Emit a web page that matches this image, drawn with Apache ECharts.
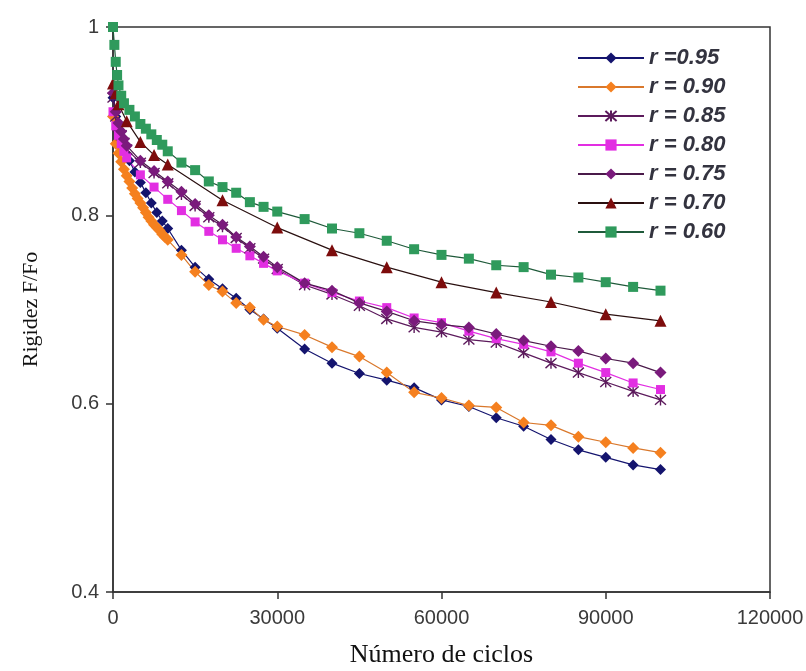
<!DOCTYPE html>
<html>
<head>
<meta charset="utf-8">
<script src="https://cdn.jsdelivr.net/npm/echarts@6/dist/echarts.min.js"></script>
<style>
  html, body { margin: 0; padding: 0; background: #fff; }
  #chart { width: 806px; height: 671px; }
</style>
</head>
<body>
<div id="chart"></div>
<script>
// Stiffness ratio F/Fo versus number of load cycles, one curve per ratio r
const seriesNames = ['r =0.95', 'r = 0.90', 'r = 0.85', 'r = 0.80', 'r = 0.75', 'r = 0.70', 'r = 0.60'];

const xTicks = [0, 30000, 60000, 90000, 120000];
const yTicks = [0.4, 0.6, 0.8, 1];

// r = 0.95
const cycles095 = [0, 500, 1000, 1500, 2000, 2500, 3000, 4000, 5000, 6000, 7000, 8000, 9000, 10000, 12500, 15000, 17500, 20000, 22500, 25000, 27500, 30000, 35000, 40000, 45000, 50000, 55000, 60000, 65000, 70000, 75000, 80000, 85000, 90000, 95000, 100000];
const values095 = [0.925, 0.905, 0.892, 0.882, 0.873, 0.865, 0.858, 0.846, 0.835, 0.824, 0.813, 0.803, 0.794, 0.786, 0.763, 0.745, 0.732, 0.722, 0.712, 0.700, 0.690, 0.680, 0.658, 0.643, 0.632, 0.625, 0.617, 0.604, 0.597, 0.585, 0.576, 0.562, 0.551, 0.543, 0.535, 0.530];

// r = 0.90
const cycles090 = [0, 500, 1000, 1500, 2000, 2500, 3000, 3500, 4000, 4500, 5000, 5500, 6000, 6500, 7000, 7500, 8000, 8500, 9000, 9500, 10000, 12500, 15000, 17500, 20000, 22500, 25000, 27500, 30000, 35000, 40000, 45000, 50000, 55000, 60000, 65000, 70000, 75000, 80000, 85000, 90000, 95000, 100000];
const values090 = [0.905, 0.876, 0.866, 0.857, 0.849, 0.842, 0.836, 0.829, 0.823, 0.818, 0.813, 0.808, 0.803, 0.798, 0.794, 0.790, 0.787, 0.784, 0.780, 0.777, 0.774, 0.758, 0.740, 0.726, 0.719, 0.707, 0.702, 0.689, 0.682, 0.673, 0.660, 0.650, 0.633, 0.612, 0.606, 0.598, 0.596, 0.580, 0.577, 0.565, 0.559, 0.553, 0.548];

// r = 0.85
const cycles085 = [0, 500, 1000, 1500, 2000, 2500, 5000, 7500, 10000, 12500, 15000, 17500, 20000, 22500, 25000, 27500, 30000, 35000, 40000, 45000, 50000, 55000, 60000, 65000, 70000, 75000, 80000, 85000, 90000, 95000, 100000];
const values085 = [0.925, 0.905, 0.894, 0.885, 0.877, 0.870, 0.856, 0.845, 0.834, 0.822, 0.810, 0.798, 0.788, 0.776, 0.765, 0.754, 0.743, 0.726, 0.716, 0.704, 0.690, 0.681, 0.676, 0.668, 0.665, 0.654, 0.643, 0.633, 0.623, 0.613, 0.604];

// r = 0.80
const cycles080 = [0, 500, 1000, 1500, 2000, 2500, 5000, 7500, 10000, 12500, 15000, 17500, 20000, 22500, 25000, 27500, 30000, 35000, 40000, 45000, 50000, 55000, 60000, 65000, 70000, 75000, 80000, 85000, 90000, 95000, 100000];
const values080 = [0.910, 0.895, 0.885, 0.876, 0.868, 0.861, 0.843, 0.830, 0.817, 0.805, 0.793, 0.783, 0.774, 0.765, 0.757, 0.749, 0.741, 0.728, 0.718, 0.709, 0.702, 0.691, 0.686, 0.677, 0.669, 0.663, 0.655, 0.643, 0.633, 0.622, 0.615];

// r = 0.75
const cycles075 = [0, 500, 1000, 1500, 2000, 2500, 5000, 7500, 10000, 12500, 15000, 17500, 20000, 22500, 25000, 27500, 30000, 35000, 40000, 45000, 50000, 55000, 60000, 65000, 70000, 75000, 80000, 85000, 90000, 95000, 100000];
const values075 = [0.930, 0.910, 0.898, 0.889, 0.881, 0.874, 0.858, 0.847, 0.836, 0.825, 0.812, 0.800, 0.790, 0.777, 0.767, 0.756, 0.745, 0.728, 0.720, 0.707, 0.698, 0.688, 0.684, 0.681, 0.674, 0.667, 0.661, 0.656, 0.648, 0.643, 0.633];

// r = 0.70
const cycles070 = [0, 500, 1000, 2500, 5000, 7500, 10000, 20000, 30000, 40000, 50000, 60000, 70000, 80000, 90000, 100000];
const values070 = [0.940, 0.930, 0.918, 0.900, 0.878, 0.864, 0.854, 0.816, 0.787, 0.763, 0.745, 0.729, 0.718, 0.708, 0.695, 0.688];

// r = 0.60
const cycles060 = [0, 250, 500, 750, 1000, 1500, 2000, 3000, 4000, 5000, 6000, 7000, 8000, 9000, 10000, 12500, 15000, 17500, 20000, 22500, 25000, 27500, 30000, 35000, 40000, 45000, 50000, 55000, 60000, 65000, 70000, 75000, 80000, 85000, 90000, 95000, 100000];
const values060 = [1.000, 0.981, 0.963, 0.949, 0.938, 0.927, 0.919, 0.912, 0.905, 0.897, 0.892, 0.886, 0.880, 0.875, 0.868, 0.856, 0.848, 0.836, 0.830, 0.824, 0.814, 0.809, 0.804, 0.796, 0.786, 0.781, 0.773, 0.764, 0.758, 0.754, 0.747, 0.745, 0.737, 0.734, 0.729, 0.724, 0.720];

const pair = (xs, ys) => xs.map((x, i) => [x, ys[i]]);

// six-armed star drawn as strokes
const asterisk = 'path://M5,0L5,10M0,0.5L10,9.5M10,0.5L0,9.5';

const styles = [
  { symbol: 'diamond',   size: 11, fill: '#14146e', line: '#14146e' },
  { symbol: 'diamond',   size: 12, fill: '#f5801f', line: '#d9782c' },
  { symbol: asterisk,    size: 11, fill: 'none',    line: '#5c1a5c', stroke: '#5c1a5c' },
  { symbol: 'rect',      size: 9,  fill: '#e22ee2', line: '#e22ee2' },
  { symbol: 'diamond',   size: 12, fill: '#7a1a7c', line: '#4a1a4a' },
  { symbol: 'triangle',  size: 12, fill: '#7d0c0c', line: '#2a1010' },
  { symbol: 'rect',      size: 10, fill: '#2f9a5c', line: '#1f5a3a' }
];

const dataSets = [
  pair(cycles095, values095),
  pair(cycles090, values090),
  pair(cycles085, values085),
  pair(cycles080, values080),
  pair(cycles075, values075),
  pair(cycles070, values070),
  pair(cycles060, values060)
];

const series = seriesNames.map((name, i) => {
  const s = styles[i];
  return {
    name: name,
    type: 'line',
    data: dataSets[i],
    symbol: s.symbol,
    symbolSize: s.size,
    showAllSymbol: true,
    smooth: false,
    lineStyle: { color: s.line, width: 1.2 },
    itemStyle: s.stroke
      ? { color: 'rgba(0,0,0,0)', borderColor: s.stroke, borderWidth: 1.4 }
      : { color: s.fill, borderWidth: 0 },
    emphasis: { disabled: true },
    animation: false
  };
});

const chart = echarts.init(document.getElementById('chart'), null, { renderer: 'canvas' });
chart.setOption({
  backgroundColor: '#ffffff',
  animation: false,
  grid: {
    left: 113, right: 36, top: 27, bottom: 79,
    outerBoundsMode: 'none',
    containLabel: false,
    show: true, borderColor: '#333', borderWidth: 1.5, backgroundColor: 'transparent'
  },
  legend: {
    data: seriesNames,
    orient: 'vertical',
    left: 577,
    top: 47,
    itemWidth: 66,
    itemHeight: 14,
    itemGap: 7,
    backgroundColor: '#ffffff',
    padding: [0, 4, 0, 0],
    textStyle: {
      fontFamily: 'Liberation Sans',
      fontStyle: 'italic',
      fontWeight: 'bold',
      fontSize: 22,
      color: '#33333f'
    }
  },
  xAxis: {
    type: 'value',
    min: xTicks[0],
    max: xTicks[xTicks.length - 1],
    interval: 30000,
    name: 'Número de ciclos',
    nameLocation: 'middle',
    nameGap: 50,
    nameTextStyle: { fontFamily: 'Liberation Serif', fontSize: 26, color: '#111' },
    axisLine: { show: true, lineStyle: { color: '#333', width: 1.5 } },
    axisTick: { show: true, inside: false, length: 7, lineStyle: { color: '#333', width: 1.5 } },
    axisLabel: {
      fontFamily: 'Liberation Sans', fontSize: 20, color: '#3a3a3a', margin: 16,
      formatter: v => String(v)
    },
    splitLine: { show: false }
  },
  yAxis: {
    type: 'value',
    min: yTicks[0],
    max: yTicks[yTicks.length - 1],
    interval: 0.2,
    name: 'Rigidez F/Fo',
    nameLocation: 'middle',
    nameRotate: 90,
    nameGap: 71,
    nameTextStyle: { fontFamily: 'Liberation Serif', fontSize: 22, color: '#111' },
    axisLine: { show: true, lineStyle: { color: '#333', width: 1.5 } },
    axisTick: { show: true, inside: false, length: 7, lineStyle: { color: '#333', width: 1.5 } },
    axisLabel: { fontFamily: 'Liberation Sans', fontSize: 20, color: '#3a3a3a', margin: 14 },
    splitLine: { show: false }
  },
  series: series
});
</script>
</body>
</html>
